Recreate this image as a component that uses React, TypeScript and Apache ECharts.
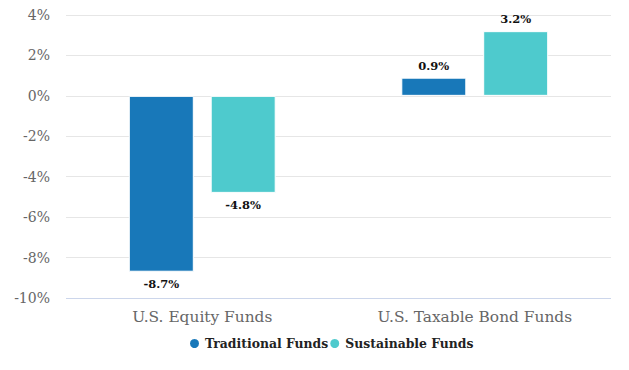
import React, { useEffect, useRef } from "react";
import * as echarts from "echarts";

const categories = ["U.S. Equity Funds", "U.S. Taxable Bond Funds"];
const traditional = [-8.7, 0.9];
const sustainable = [-4.8, 3.2];
const seriesNames = ["Traditional Funds", "Sustainable Funds"];

const FONT = "DejaVu Serif";

export default function App() {
  const ref = useRef<HTMLDivElement>(null);
  useEffect(() => {
    if (!ref.current) return;
    const chart = echarts.init(ref.current, null, { renderer: "svg" });
    const label = {
      show: true,
      formatter: (p: any) => p.value.toFixed(1) + "%",
      fontFamily: FONT,
      fontWeight: "bold" as const,
      fontSize: 11.5,
      color: "#111",
      distance: 6,
    };
    chart.setOption({
      animation: false,
      grid: { left: 58, right: 10, top: 7, bottom: 64 },
      legend: {
        bottom: 7,
        left: 175,
        icon: "circle",
        itemWidth: 11,
        itemHeight: 11,
        itemGap: 0,
        textStyle: { fontFamily: FONT, fontWeight: "bold", fontSize: 12.4, color: "#222" },
        data: seriesNames,
      },
      xAxis: {
        type: "category",
        data: categories,
        axisLine: { show: false },
        axisTick: { show: false },
        axisLabel: { fontFamily: FONT, fontSize: 15.4, color: "#666", margin: 11 },
      },
      yAxis: {
        type: "value",
        min: -10,
        max: 4,
        interval: 2,
        axisLabel: {
          formatter: "{value}%",
          fontFamily: FONT,
          fontSize: 14,
          color: "#666",
          margin: 16,
        },
        splitLine: { lineStyle: { color: "#e6e6e6" } },
        axisLine: { show: false },
        axisTick: { show: false },
      },
      series: [
        {
          name: seriesNames[0],
          type: "bar",
          data: traditional.map((v) => ({ value: v, label: { position: v < 0 ? "bottom" : "top" } })),
          barWidth: 65,
          barGap: "26%",
          itemStyle: { color: "#1878b9", borderColor: "#fff", borderWidth: 1 },
          label,
        },
        {
          name: seriesNames[1],
          type: "bar",
          data: sustainable.map((v) => ({ value: v, label: { position: v < 0 ? "bottom" : "top" } })),
          barWidth: 65,
          itemStyle: { color: "#4ecacd", borderColor: "#fff", borderWidth: 1 },
          label,
          markLine: {
            silent: true,
            symbol: "none",
            label: { show: false },
            lineStyle: { color: "#ccd6eb", type: "solid", width: 1 },
            data: [{ yAxis: -10 }],
          },
        },
      ],
    });
    return () => chart.dispose();
  }, []);
  return <div ref={ref} style={{ width: 613, height: 354 }} />;
}
